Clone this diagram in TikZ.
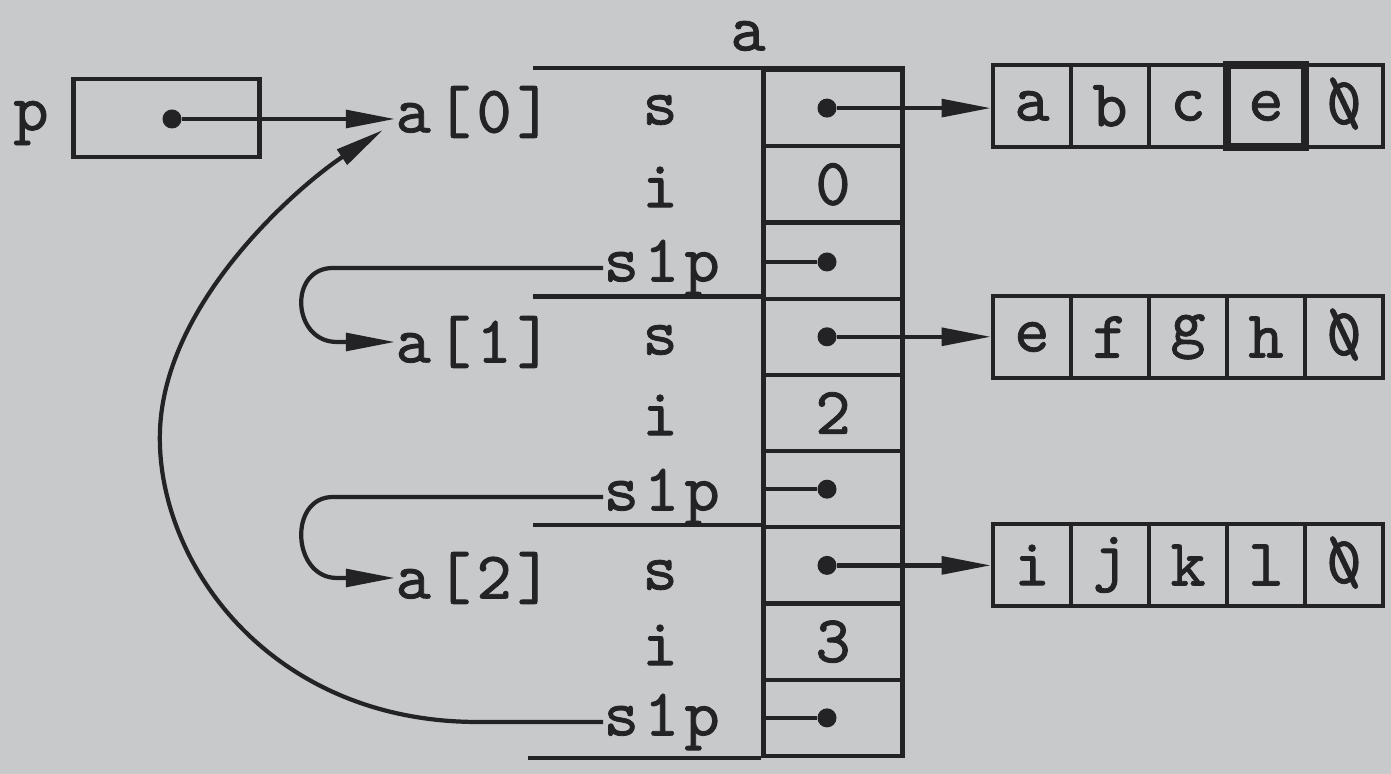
\documentclass[tikz,border=0pt]{standalone}
\usepackage{fontspec}
\usetikzlibrary{arrows.meta,calc}
\newfontfamily\diagmono{lmmono10-regular.otf}[LetterSpace=8,FakeBold=1.2]
\definecolor{ink}{RGB}{35,35,38}
\definecolor{bgc}{RGB}{200,201,203}
\newcommand{\slzero}{\ooalign{0\cr\hidewidth\textbackslash\hidewidth\cr}}
\begin{document}
\begin{tikzpicture}[x=0.01cm,y=-0.01cm,
  every node/.style={font=\diagmono\fontsize{19}{22}\selectfont, text=ink},
  ln/.style={draw=ink, line width=1.2pt},
  cellbox/.style={draw=ink, line width=1.2pt, minimum width=1.39cm, minimum height=0.762cm, inner sep=0pt},
  chbox/.style={draw=ink, line width=1.2pt, minimum width=0.78cm, minimum height=0.82cm, inner sep=0pt},
  dotn/.style={circle, fill=ink, inner sep=0pt, minimum size=0.19cm},
  ptr/.style={draw=ink, line width=1.2pt, -{Triangle[length=14pt,width=5pt]}},
  lbl/.style={inner sep=0pt}]
\fill[bgc] (0,0) rectangle (1391,774);
\useasboundingbox (0,0) rectangle (1391,774);

% pointer p
\node[lbl] (plab) at (31,123) {p};
\node[draw=ink, line width=1.2pt, minimum width=1.86cm, minimum height=0.78cm, inner sep=0pt] (pbox) at (166.5,118) {};
\node[dotn] (pdot) at (172,119) {};

% array a
\node (alab) at (748,36) {a};
\node[cellbox] (c0) at (833,108.1) {};
\node[cellbox] (c1) at (833,184.3) {0};
\node[cellbox] (c2) at (833,260.6) {};
\node[cellbox] (c3) at (833,336.8) {};
\node[cellbox] (c4) at (833,413.0) {2};
\node[cellbox] (c5) at (833,489.2) {};
\node[cellbox] (c6) at (833,565.4) {};
\node[cellbox] (c7) at (833,641.7) {3};
\node[cellbox] (c8) at (833,717.9) {};

% group separators
\draw[ln] (c0.north east) -- ++(-372,0);
\draw[ln] (c3.north west) -- ++(-228,0);
\draw[ln] (c6.north west) -- ++(-228,0);
\draw[ln] (c8.south west) -- ++(-233,0);

% element labels
\node[lbl,anchor=west] (a0) at (395,112) {a[0]};
\node[lbl,anchor=west] (a1) at (395,342) {a[1]};
\node[lbl,anchor=west] (a2) at (395,578) {a[2]};

% field labels
\node[lbl] (fs0) at (660,110) {s};
\node[lbl] (fi0) at (660,187) {i};
\node[lbl,anchor=west] (fp0) at (603,268) {s1p};
\node[lbl] (fs1) at (660,340) {s};
\node[lbl] (fi1) at (660,415) {i};
\node[lbl,anchor=west] (fp1) at (603,497) {s1p};
\node[lbl] (fs2) at (660,575) {s};
\node[lbl] (fi2) at (660,645) {i};
\node[lbl,anchor=west] (fp2) at (603,722) {s1p};

% dots in the cells
\node[dotn] (d0) at (827,108.1) {};
\node[dotn] (d2) at (827,262) {};
\node[dotn] (d3) at (827,336.8) {};
\node[dotn] (d5) at (827,489.2) {};
\node[dotn] (d6) at (827,565.4) {};
\node[dotn] (d8) at (827,717.9) {};

% strings
\foreach \r/\yy/\ca/\cb/\cc/\cd in {0/106/a/b/c/e, 1/337/e/f/g/h, 2/565/i/j/k/l}{
  \node[chbox] (s\r0) at (1032,\yy) {\ca};
  \node[chbox] (s\r1) at (1110,\yy) {\cb};
  \node[chbox] (s\r2) at (1188,\yy) {\cc};
  \node[chbox] (s\r3) at (1266,\yy) {\cd};
  \node[chbox] (s\r4) at (1344,\yy) {\slzero};
}
\draw[draw=ink, line width=2.4pt] ($(s03.north west)+(2,2)$) rectangle ($(s03.south east)+(-2,-2)$);

% connectors
\draw[ptr] (pdot) -- (pdot -| a0.west);
\draw[ptr] (d0) -- (d0 -| s00.west);
\draw[ptr] (d3) -- (d3 -| s10.west);
\draw[ptr] (d6) -- (d6 -| s20.west);
\draw[ln] (c2.west |- d2) -- (d2);
\draw[ln] (c5.west |- d5) -- (d5);
\draw[ln] (c8.west |- d8) -- (d8);

\draw[ptr] (fp0.west) -- ++(-270,0) .. controls +(-45,0) and +(-45,0) .. ($(a1.west)+(-58,0)$) -- (a1.west);
\draw[ptr] (fp1.west) -- ++(-270,0) .. controls +(-45,0) and +(-45,0) .. ($(a2.west)+(-58,0)$) -- (a2.west);
\draw[ptr] (fp2.west) -- ++(-125,0) .. controls +(-210,0) and (155,560) .. (160,430)
  .. controls (165,300) and (300,185) .. ($(a0.west)+(-12,18)$);
\end{tikzpicture}
\end{document}
